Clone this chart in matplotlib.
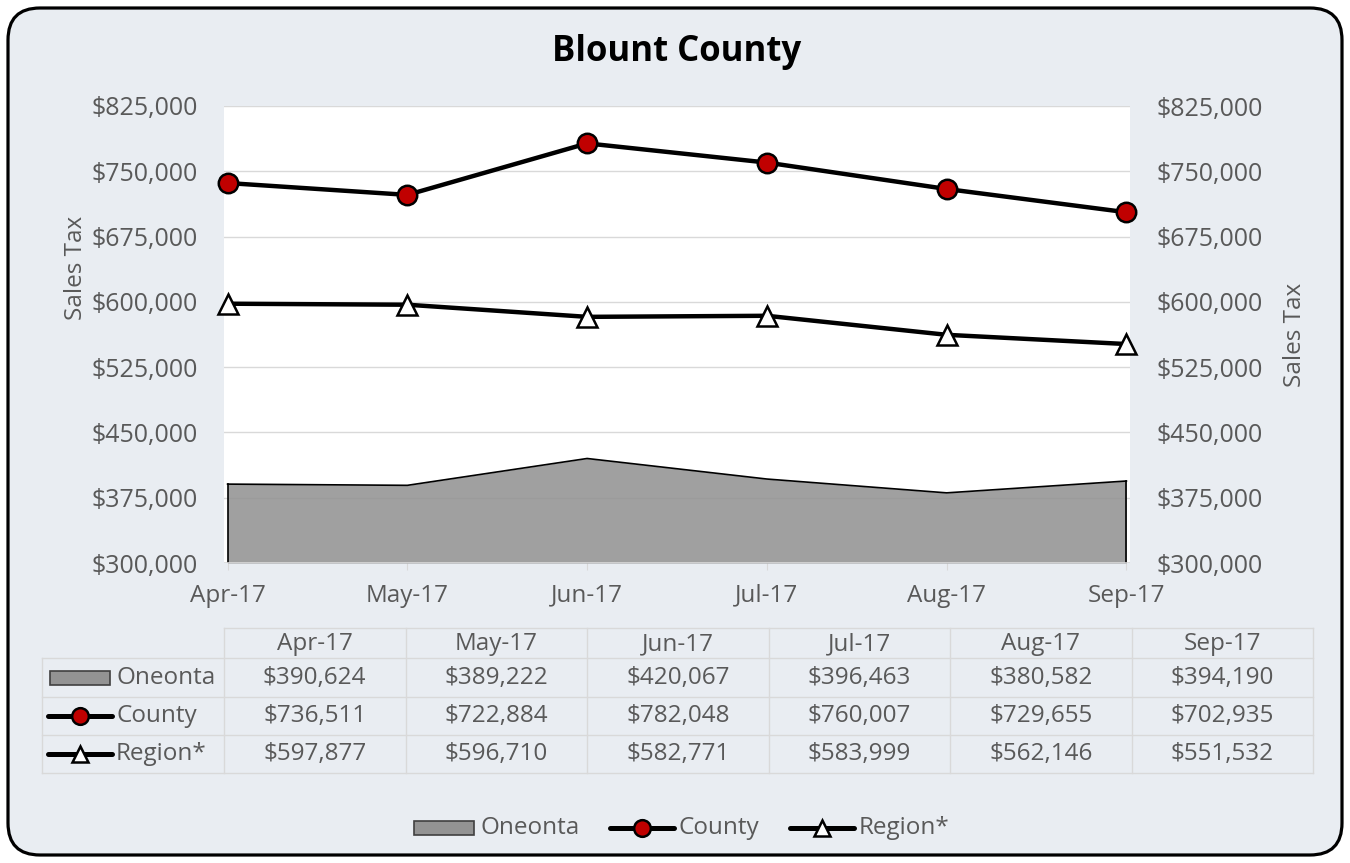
import matplotlib.pyplot as plt
import matplotlib as mpl
from matplotlib.patches import FancyBboxPatch, Rectangle
from matplotlib.lines import Line2D
from matplotlib.ticker import FuncFormatter

months = ["Apr-17", "May-17", "Jun-17", "Jul-17", "Aug-17", "Sep-17"]
oneonta = [390624, 389222, 420067, 396463, 380582, 394190]
county = [736511, 722884, 782048, 760007, 729655, 702935]
region = [597877, 596710, 582771, 583999, 562146, 551532]
y_ticks = [300000, 375000, 450000, 525000, 600000, 675000, 750000, 825000]

BG = "#E9EDF2"
TXT = "#595959"
GRID = "#D9D9D9"
RED = "#C00000"
FILL = "#939393"
FS = 17.5

plt.rcParams['font.family'] = ['Open Sans', 'DejaVu Sans']

W, H = 1350, 863
fig = plt.figure(figsize=(W / 100, H / 100), dpi=100)
fig.patch.set_facecolor("white")

# pixel-space overlay for the frame, table and legend
ov = fig.add_axes([0, 0, 1, 1], zorder=0)
ov.set_xlim(0, W)
ov.set_ylim(H, 0)
ov.axis("off")
ov.add_patch(FancyBboxPatch((8, 8), W - 16, H - 16, boxstyle="round,pad=0,rounding_size=32",
                            facecolor=BG, edgecolor="black", linewidth=2.3))

x0, x1, yb, yt = 224, 1130, 563, 106
ax = fig.add_axes([x0 / W, 1 - yb / H, (x1 - x0) / W, (yb - yt) / H], zorder=2)
ax.set_facecolor("white")
xs = range(len(months))
ax.grid(axis="y", color=GRID, lw=1.0, zorder=0)
ax.set_axisbelow(True)
ax.fill_between(xs, oneonta, 300000, color=FILL, alpha=0.88, lw=0, zorder=1)
ax.plot(xs, oneonta, color="black", lw=1.2, zorder=2)
ax.plot([0, 0], [300000, oneonta[0]], color="black", lw=1.2, zorder=2)
ax.plot([5, 5], [300000, oneonta[-1]], color="black", lw=1.2, zorder=2)
ax.plot(xs, county, color="black", lw=3.2, marker="o", markersize=14,
        markerfacecolor=RED, markeredgecolor="black", markeredgewidth=1.8, zorder=5, clip_on=False)
ax.plot(xs, region, color="black", lw=3.2, marker="^", markersize=15,
        markerfacecolor="white", markeredgecolor="black", markeredgewidth=1.8, zorder=5, clip_on=False)

ax.set_xlim(-0.02, 5.02)
ax.set_ylim(300000, 825000)
ax.set_yticks(y_ticks)
fmt = FuncFormatter(lambda v, p: f"${v:,.0f}")
ax.yaxis.set_major_formatter(fmt)
ax.set_xticks(list(xs))
ax.set_xticklabels(months)
for s in ax.spines.values():
    s.set_visible(False)
ax.tick_params(axis="y", length=0, pad=19, labelsize=18, labelcolor=TXT)
ax.tick_params(axis="x", length=5, color=GRID, pad=10, labelsize=FS, labelcolor=TXT)
ax.axhline(300000, color=GRID, lw=1.2, zorder=3)

ax2 = ax.twinx()
ax2.set_ylim(300000, 825000)
ax2.set_yticks(y_ticks)
ax2.yaxis.set_major_formatter(fmt)
ax2.tick_params(axis="y", length=0, pad=19, labelsize=18, labelcolor=TXT)
for s in ax2.spines.values():
    s.set_visible(False)

fig.text(677 / W, 1 - 52 / H, "Blount County", ha="center", va="center",
         fontsize=25, fontweight="bold", color="black")
fig.text(76 / W, 1 - 268 / H, "Sales Tax", rotation=90, ha="center", va="center",
         fontsize=FS, color=TXT)
fig.text(1295 / W, 1 - 335 / H, "Sales Tax", rotation=90, ha="center", va="center",
         fontsize=FS, color=TXT)

# data table
col_edges = [224 + i * 181.5 for i in range(7)]
row_edges = [628, 658, 697, 735, 773]
tl = 42
lk = dict(color=GRID, lw=1.0)
ov.plot([col_edges[0], col_edges[-1]], [row_edges[0]] * 2, **lk)
for r in row_edges[1:]:
    ov.plot([tl, col_edges[-1]], [r, r], **lk)
for c in col_edges:
    ov.plot([c, c], [row_edges[0], row_edges[-1]], **lk)
ov.plot([tl, tl], [row_edges[1], row_edges[-1]], **lk)

for i, m in enumerate(months):
    cx = (col_edges[i] + col_edges[i + 1]) / 2
    ov.text(cx, (row_edges[0] + row_edges[1]) / 2 + 1, m, ha="center", va="center",
            fontsize=FS, color=TXT)
    for j, vals in enumerate([oneonta, county, region]):
        ov.text(cx, (row_edges[j + 1] + row_edges[j + 2]) / 2, f"${vals[i]:,}",
                ha="center", va="center", fontsize=FS, color=TXT)


def key(x, y, kind, w=64):
    if kind == "area":
        ov.add_patch(Rectangle((x + 2, y - 7), w - 4, 14, facecolor=FILL, edgecolor="#404040", lw=1.2))
    else:
        ov.add_line(Line2D([x, x + w], [y, y], color="black", lw=3.6, solid_capstyle="round"))
        if kind == "county":
            ov.plot(x + w / 2, y, marker="o", markersize=12, markerfacecolor=RED,
                    markeredgecolor="black", markeredgewidth=1.8)
        else:
            ov.plot(x + w / 2, y, marker="^", markersize=12, markerfacecolor="white",
                    markeredgecolor="black", markeredgewidth=1.8)


names = ["Oneonta", "County", "Region*"]
kinds = ["area", "county", "region"]
for j in range(3):
    yc = (row_edges[j + 1] + row_edges[j + 2]) / 2
    key(48, yc, kinds[j])
    ov.text(116, yc, names[j], ha="left", va="center", fontsize=FS, color=TXT)

# legend
for lx, j in [(412, 0), (610, 1), (790, 2)]:
    key(lx, 828, kinds[j])
    ov.text(lx + 69, 828, names[j], ha="left", va="center", fontsize=FS, color=TXT)

fig.savefig("out.png", dpi=100, facecolor="white")
